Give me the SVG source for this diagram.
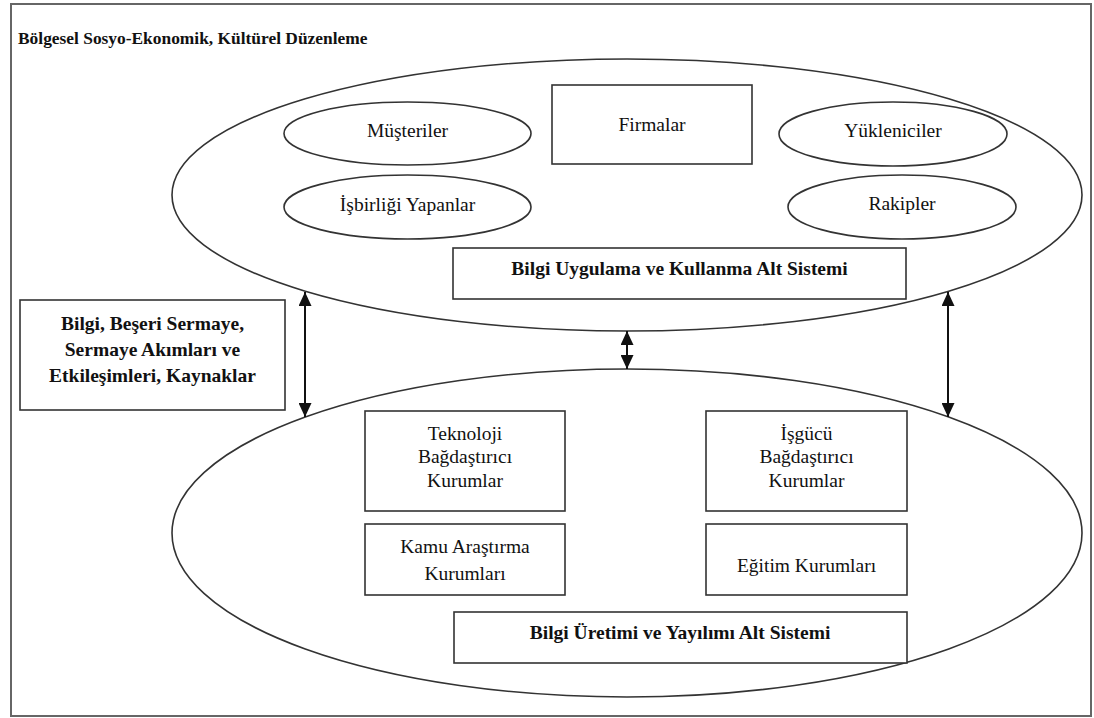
<svg xmlns="http://www.w3.org/2000/svg" width="1094" height="718" viewBox="0 0 1094 718" font-family="'Liberation Serif', 'Times New Roman', Tinos, serif">
<style>
.frame{fill:#fff;stroke:#666;stroke-width:2}
.shape{fill:none;stroke:#333;stroke-width:1.6}
.box{fill:#fff;stroke:#333;stroke-width:1.6}
text{font-family:'Liberation Serif', 'Times New Roman', Tinos, serif}
.t{font-size:19.5px;fill:#111;text-anchor:middle}
.b{font-weight:bold}
.title{font-size:17.4px;font-weight:bold;fill:#111}
.arrow{stroke:#111;stroke-width:2;fill:none;marker-start:url(#ah);marker-end:url(#ah)}
</style>
<defs>
<marker id="ah" viewBox="0 0 14 13" refX="14" refY="6.5" markerWidth="14" markerHeight="13" markerUnits="userSpaceOnUse" orient="auto-start-reverse">
<path d="M0,0 L14,6.5 L0,13 z" fill="#111"/>
</marker>
</defs>
<rect class="frame" x="11" y="4" width="1080" height="712"/>
<text class="title" x="18" y="44">Bölgesel Sosyo-Ekonomik, Kültürel Düzenleme</text>

<g id="upper-subsystem">
<ellipse class="shape" cx="627" cy="195" rx="455" ry="136"/>
</g>
<g id="musteriler">
<ellipse class="shape" cx="407.5" cy="133.5" rx="123.5" ry="31.5"/>
<text class="t" x="407.5" y="137">Müşteriler</text>
</g>
<g id="isbirligi">
<ellipse class="shape" cx="407.5" cy="207" rx="123.5" ry="32"/>
<text class="t" x="407.5" y="211">İşbirliği Yapanlar</text>
</g>
<g id="firmalar">
<rect class="box" x="552" y="85" width="200" height="79"/>
<text class="t" x="652" y="131">Firmalar</text>
</g>
<g id="yukleniciler">
<ellipse class="shape" cx="893" cy="134" rx="114" ry="32"/>
<text class="t" x="893" y="137">Yükleniciler</text>
</g>
<g id="rakipler">
<ellipse class="shape" cx="902" cy="207" rx="114" ry="32"/>
<text class="t" x="902" y="210">Rakipler</text>
</g>
<g id="bilgi-uygulama">
<rect class="box" x="453" y="248" width="453" height="51"/>
<text class="t b" x="679.5" y="275">Bilgi Uygulama ve Kullanma Alt Sistemi</text>
</g>

<g id="kaynaklar">
<rect class="box" x="20" y="300" width="265" height="110"/>
<text class="t b" x="152.5" y="330">Bilgi, Beşeri Sermaye,</text>
<text class="t b" x="152.5" y="356">Sermaye Akımları ve</text>
<text class="t b" x="152.5" y="382">Etkileşimleri, Kaynaklar</text>
</g>

<g id="lower-subsystem">
<ellipse class="shape" cx="627" cy="533" rx="455" ry="164"/>
</g>
<g id="teknoloji">
<rect class="box" x="365" y="411" width="200" height="100"/>
<text class="t" x="465" y="440">Teknoloji</text>
<text class="t" x="465" y="463">Bağdaştırıcı</text>
<text class="t" x="465" y="487">Kurumlar</text>
</g>
<g id="isgucu">
<rect class="box" x="706" y="411" width="201" height="100"/>
<text class="t" x="806.5" y="440">İşgücü</text>
<text class="t" x="806.5" y="463">Bağdaştırıcı</text>
<text class="t" x="806.5" y="487">Kurumlar</text>
</g>
<g id="kamu">
<rect class="box" x="365" y="524" width="200" height="71"/>
<text class="t" x="465" y="553">Kamu Araştırma</text>
<text class="t" x="465" y="580">Kurumları</text>
</g>
<g id="egitim">
<rect class="box" x="706" y="524" width="201" height="71"/>
<text class="t" x="806.5" y="572">Eğitim Kurumları</text>
</g>
<g id="bilgi-uretimi">
<rect class="box" x="454" y="612" width="453" height="51"/>
<text class="t b" x="680" y="639">Bilgi Üretimi ve Yayılımı Alt Sistemi</text>
</g>

<g id="connectors">
<line class="arrow" x1="305" y1="292" x2="305" y2="417"/>
<line class="arrow" x1="627" y1="331" x2="627" y2="369"/>
<line class="arrow" x1="948" y1="292" x2="948" y2="417"/>
</g>
</svg>
